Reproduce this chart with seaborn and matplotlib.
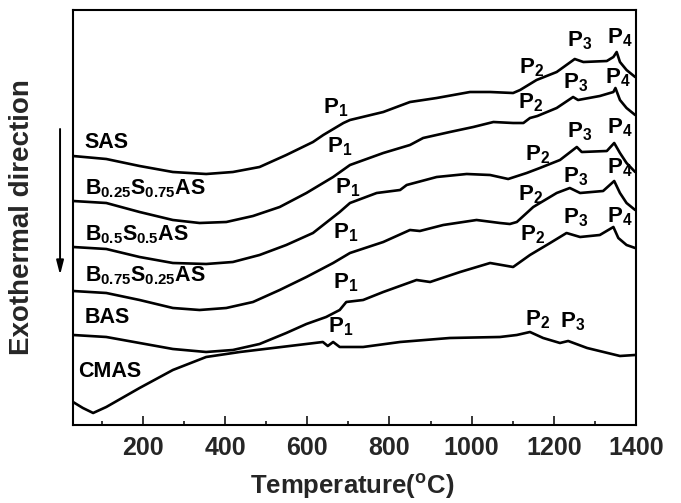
import numpy as np
import pandas as pd
import seaborn as sns
import matplotlib.pyplot as plt

# DTA curves (temperature in degC, signal in arbitrary units)
sas_t = [30, 111, 192, 273, 354, 419, 484, 549, 614, 639, 688, 704, 785, 850, 915, 996,
         1045, 1101, 1118, 1158, 1207, 1251, 1272, 1329, 1345, 1353, 1361, 1377, 1398]
sas_y = [269, 266, 259, 253, 251, 253, 258, 270, 283, 290, 302, 305, 313, 323, 327, 333,
         333, 332, 335, 345, 353, 366, 363, 364, 368, 373, 363, 355, 348]

b25_t = [30, 111, 192, 273, 338, 403, 468, 533, 598, 663, 704, 785, 850, 882, 947, 1004,
         1053, 1101, 1126, 1142, 1160, 1207, 1247, 1259, 1312, 1345, 1350, 1361, 1377, 1398]
b25_y = [224, 222, 213, 205, 202, 203, 209, 218, 232, 248, 260, 272, 280, 287, 293, 298,
         303, 302, 302, 307, 309, 317, 328, 325, 329, 333, 337, 325, 317, 310]

b50_t = [30, 111, 192, 273, 354, 419, 484, 549, 614, 679, 704, 769, 826, 842, 915, 988,
         1045, 1089, 1134, 1166, 1215, 1256, 1268, 1329, 1347, 1361, 1377, 1398]
b50_y = [178, 176, 168, 162, 161, 163, 170, 180, 192, 213, 222, 232, 235, 240, 248, 251,
         250, 246, 252, 257, 265, 278, 273, 274, 282, 272, 262, 253]

b75_t = [30, 111, 192, 273, 338, 403, 468, 533, 598, 663, 704, 785, 850, 874, 931, 1012,
         1069, 1093, 1110, 1150, 1207, 1239, 1264, 1320, 1347, 1361, 1377, 1398]
b75_y = [134, 132, 125, 117, 115, 117, 123, 135, 148, 162, 172, 183, 195, 194, 200, 205,
         202, 201, 203, 218, 232, 237, 232, 234, 244, 232, 222, 215]

bas_t = [30, 111, 192, 273, 354, 419, 484, 549, 598, 646, 679, 695, 736, 785, 866, 899,
         972, 1045, 1101, 1142, 1191, 1231, 1264, 1312, 1345, 1357, 1377, 1398]
bas_y = [90, 88, 82, 76, 73, 75, 81, 92, 101, 108, 115, 123, 125, 133, 145, 143,
         153, 162, 158, 170, 182, 192, 188, 190, 198, 187, 180, 177]

cmas_t = [30, 54, 79, 111, 192, 273, 354, 436, 517, 638, 650, 663, 679, 736, 826, 947,
          1069, 1110, 1142, 1174, 1215, 1235, 1281, 1361, 1398]
cmas_y = [23, 17, 12, 18, 37, 55, 68, 73, 77, 83, 79, 83, 78, 78, 83, 87,
          88, 90, 93, 87, 82, 84, 77, 69, 70]

samples = ['SAS', 'B25', 'B50', 'B75', 'BAS', 'CMAS']
sample_names = [r'SAS', r'$B_{0.25}S_{0.75}AS$', r'$B_{0.5}S_{0.5}AS$',
                r'$B_{0.75}S_{0.25}AS$', r'BAS', r'CMAS']
curves_t = [sas_t, b25_t, b50_t, b75_t, bas_t, cmas_t]
curves_y = [sas_y, b25_y, b50_y, b75_y, bas_y, cmas_y]

# sample label anchors (left, baseline)
name_x = [59, 59, 59, 59, 59, 42]
name_y = [277, 231, 185, 144, 102, 48]

# peak labels: (text, T, y baseline)
peak_text = ['P$_1$', 'P$_2$', 'P$_3$', 'P$_4$',
             'P$_1$', 'P$_2$', 'P$_3$', 'P$_4$',
             'P$_1$', 'P$_2$', 'P$_3$', 'P$_4$',
             'P$_1$', 'P$_2$', 'P$_3$', 'P$_4$',
             'P$_1$', 'P$_2$', 'P$_3$', 'P$_4$',
             'P$_1$', 'P$_2$', 'P$_3$']
peak_x = [638, 1116, 1232, 1329,
          648, 1113, 1222, 1324,
          667, 1130, 1232, 1329,
          663, 1113, 1222, 1329,
          663, 1118, 1222, 1329,
          650, 1130, 1215]
peak_y = [312, 352, 379, 382,
          273, 317, 337, 342,
          232, 265, 288, 292,
          187, 225, 243, 252,
          137, 185, 202, 203,
          93, 100, 98]

df = pd.concat([pd.DataFrame({'sample': s, 'T': t, 'y': y})
                for s, t, y in zip(samples, curves_t, curves_y)], ignore_index=True)

sns.set_theme(style='ticks')
plt.rcParams['font.family'] = ['Liberation Sans', 'DejaVu Sans']
plt.rcParams['font.weight'] = 'bold'
plt.rcParams['mathtext.fontset'] = 'custom'
plt.rcParams['mathtext.rm'] = 'Liberation Sans:bold'
plt.rcParams['mathtext.it'] = 'Liberation Sans:bold'
plt.rcParams['mathtext.bf'] = 'Liberation Sans:bold'

fig = plt.figure(figsize=(6.81, 5.03), dpi=100)
ax = fig.add_axes([0.1072, 0.1551, 0.8267, 0.825])

sns.lineplot(data=df, x='T', y='y', units='sample', estimator=None, sort=False,
             color='black', linewidth=1.9, ax=ax)

for name, x, y in zip(sample_names, name_x, name_y):
    ax.text(x, y, name, fontsize=15.5, ha='left', va='baseline', color='black')
for txt, x, y in zip(peak_text, peak_x, peak_y):
    ax.text(x, y, txt, fontsize=16, ha='left', va='baseline', color='black')

ax.set_xlim(30, 1400)
ax.set_ylim(0, 415)
ax.set_xticks(np.arange(200, 1401, 200))
ax.set_xticks(np.arange(100, 1400, 200), minor=True)
ax.set_yticks([])
ax.tick_params(axis='x', which='major', direction='in', length=6.5, width=1.3,
               labelsize=18, pad=8)
ax.tick_params(axis='x', which='minor', direction='in', length=3.2, width=1.3)
for lab in ax.get_xticklabels():
    lab.set_fontweight('bold')
for sp in ax.spines.values():
    sp.set_visible(True)
    sp.set_linewidth(1.5)
    sp.set_color('black')

ax.set_xlabel(r'Temperature($^{\mathrm{o}}$C)', fontsize=18.5, fontweight='bold')
ax.xaxis.set_label_coords(0.496, -0.113)
ax.set_ylabel('Exothermal direction', fontsize=20, fontweight='bold')
ax.yaxis.set_label_coords(-0.068, 0.5)

ax.annotate('', xy=(-0.023, 0.355), xytext=(-0.023, 0.72), xycoords='axes fraction',
            arrowprops=dict(arrowstyle='-|>,head_length=0.7,head_width=0.18',
                            lw=1.4, color='black'),
            annotation_clip=False)

fig.savefig('out.png', dpi=100)
